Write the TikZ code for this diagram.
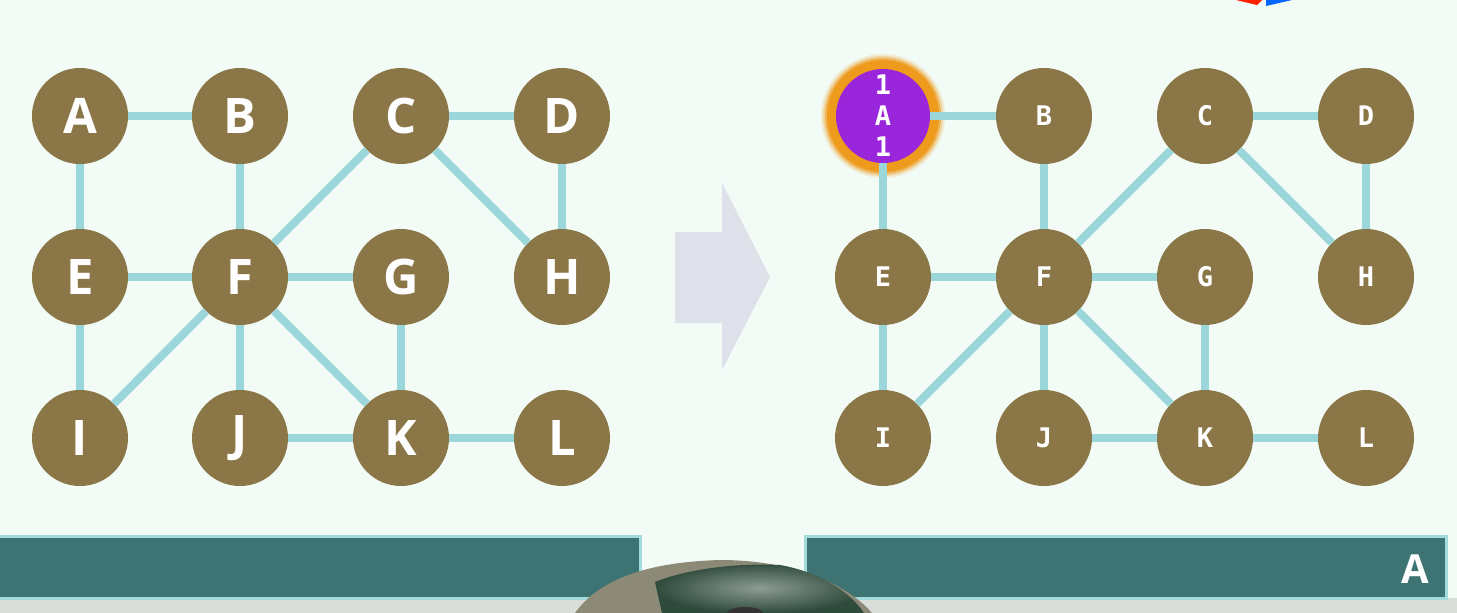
\documentclass[tikz,border=0pt]{standalone}
\usepackage{fontspec}
\setsansfont{Open Sans}
\newfontfamily\monofont{DejaVu Sans Mono}
\definecolor{bgMint}{HTML}{F2FBF5}
\definecolor{nodeBrown}{HTML}{8A7646}
\definecolor{edgeCyan}{HTML}{9BD7DA}
\definecolor{arrowGrey}{HTML}{DFE1EA}
\definecolor{barTeal}{HTML}{3D7372}
\definecolor{barRim}{HTML}{A3DADD}
\definecolor{visitPurple}{HTML}{9A26DB}
\definecolor{glowOrange}{HTML}{EE9A1C}
\definecolor{stripGrey}{HTML}{D9DEDB}
\definecolor{helmetShell}{HTML}{8C8A76}
\definecolor{helmetVisor}{HTML}{2F4B3C}
\tikzset{
  vtx/.style={circle, fill=nodeBrown, minimum size=96pt, inner sep=0pt, text=white},
  bigvtx/.style={vtx, font=\sffamily\bfseries\fontsize{49}{55}\selectfont},
  smallvtx/.style={vtx, font=\monofont\bfseries\fontsize{27}{30}\selectfont},
  visited/.style={smallvtx, fill=visitPurple, minimum size=94pt, align=center,
    font=\monofont\bfseries\fontsize{27}{31}\selectfont},
  link/.style={draw=edgeCyan, line width=8pt},
  bar/.style={fill=barTeal, draw=barRim, line width=3pt}
}
\begin{document}
\begin{tikzpicture}[x=1pt, y=-1pt]
% canvas, in pixels of the frame
\fill[bgMint] (0,0) rectangle (1457,613);
\useasboundingbox (0,0) rectangle (1457,613);
% corner of a logo cut by the top edge
\fill[red!75!orange] (1236,0) -- (1262,0) -- (1257,5) -- cycle;
\fill[blue!60!cyan] (1266,0) -- (1292,0) -- (1266,6) -- cycle;
% Left graph
\node[bigvtx] (lA) at (80,116) {A};
\node[bigvtx] (lB) at (240,116) {B};
\node[bigvtx] (lC) at (401,116) {C};
\node[bigvtx] (lD) at (562,116) {D};
\node[bigvtx] (lE) at (80,277) {E};
\node[bigvtx] (lF) at (240,277) {F};
\node[bigvtx] (lG) at (401,277) {G};
\node[bigvtx] (lH) at (562,277) {H};
\node[bigvtx] (lI) at (80,438) {I};
\node[bigvtx] (lJ) at (240,438) {J};
\node[bigvtx] (lK) at (401,438) {K};
\node[bigvtx] (lL) at (562,438) {L};
% Right graph, A already visited
\foreach \r/\o in {62/0.15, 60/0.3, 58/0.55, 56/1} {
  \fill[glowOrange, opacity=\o] (883,116) circle (\r);
}
\node[visited] (rA) at (883,116) {1\\A\\1};
\node[smallvtx] (rB) at (1044,116) {B};
\node[smallvtx] (rC) at (1205,116) {C};
\node[smallvtx] (rD) at (1366,116) {D};
\node[smallvtx] (rE) at (883,277) {E};
\node[smallvtx] (rF) at (1044,277) {F};
\node[smallvtx] (rG) at (1205,277) {G};
\node[smallvtx] (rH) at (1366,277) {H};
\node[smallvtx] (rI) at (883,438) {I};
\node[smallvtx] (rJ) at (1044,438) {J};
\node[smallvtx] (rK) at (1205,438) {K};
\node[smallvtx] (rL) at (1366,438) {L};
% Edges, same for both sides
\foreach \s in {l,r} {
  \path[link] (\s A) -- (\s B);
  \path[link] (\s A) -- (\s E);
  \path[link] (\s B) -- (\s F);
  \path[link] (\s C) -- (\s D);
  \path[link] (\s C) -- (\s F);
  \path[link] (\s C) -- (\s H);
  \path[link] (\s D) -- (\s H);
  \path[link] (\s E) -- (\s F);
  \path[link] (\s F) -- (\s G);
  \path[link] (\s E) -- (\s I);
  \path[link] (\s F) -- (\s I);
  \path[link] (\s F) -- (\s J);
  \path[link] (\s F) -- (\s K);
  \path[link] (\s G) -- (\s K);
  \path[link] (\s J) -- (\s K);
  \path[link] (\s K) -- (\s L);
}
% Step arrow between the two graphs
\fill[arrowGrey] (675,232) -- (722,232) -- (722,183) -- (770,277)
  -- (722,370) -- (722,323) -- (675,323) -- cycle;
% Bottom bars
\fill[stripGrey] (0,598) rectangle (1457,613);
\path[bar] (-4,536) rectangle (640,598);
\path[bar] (805,536) rectangle (1446,598);
\node[anchor=east, text=white, font=\sffamily\bfseries\fontsize{40}{44}\selectfont]
  (stepLabel) at (1433,569) {A};
% Helmet peeking in at the bottom
\fill[helmetShell] (575,613) .. controls (600,578) and (650,562) .. (720,560)
  .. controls (790,560) and (845,582) .. (872,613) -- cycle;
\shade[inner color=helmetVisor!55, outer color=helmetVisor] (662,613) -- (655,582)
  .. controls (690,568) and (740,563) .. (780,565)
  .. controls (820,572) and (850,592) .. (864,613) -- cycle;
\fill[black!80] (745,613) ellipse (18 and 6);
\end{tikzpicture}
\end{document}
